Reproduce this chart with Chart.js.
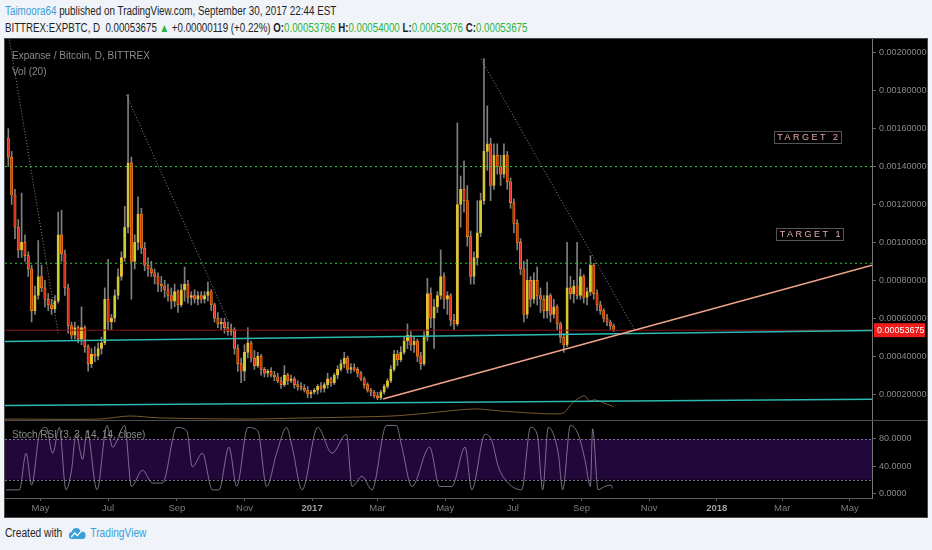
<!DOCTYPE html>
<html lang="en">
<head>
<meta charset="UTF-8">
<title>EXPBTC daily - TradingView snapshot</title>
<script src="https://cdn.jsdelivr.net/npm/chart.js"></script>
<style>
  body {
    margin: 0;
    width: 932px;
    height: 550px;
    background: #f0f3f8;
    position: relative;
    overflow: hidden;
    font-family: 'Liberation Sans', Arial, sans-serif;
    color: #1f1f1f;
  }
  .line1, .line2, .foot {
    position: absolute;
    left: 5px;
    font-size: 12px;
    white-space: nowrap;
    transform-origin: left center;
  }
  .line1 { top: 4px; transform: scaleX(0.82); }
  .line2 { top: 21px; transform: scaleX(0.81); }
  .user, .brand { color: #3aa0d9; }
  .g { color: #2eb33c; }
  .foot { top: 526px; display: flex; align-items: center; transform: scaleX(0.85); }
  .foot svg { margin: 0 5px 0 8px; }
  #panel {
    position: absolute;
    left: 5px;
    top: 39px;
    width: 922px;
    height: 478px;
    background: #000;
    outline: 1px solid #4a4a4a;
  }
  #priceCanvas { position: absolute; left: 0; top: 0; }
  #rsiCanvas { position: absolute; left: 0; top: 381px; }
</style>
</head>
<body>
  <div class="line1"><span class="user">Taimoora64</span> published on TradingView.com, September 30, 2017 22:44 EST</div>
  <div class="line2">BITTREX:EXPBTC, D&nbsp; 0.00053675 <span class="g">&#9650;</span> +0.00000119 (+0.22%) <b>O:</b><span class="g">0.00053786</span> <b>H:</b><span class="g">0.00054000</span> <b>L:</b><span class="g">0.00053076</span> <b>C:</b><span class="g">0.00053675</span></div>

  <div id="panel">
    <canvas id="priceCanvas" width="922" height="381"></canvas>
    <canvas id="rsiCanvas" width="922" height="97"></canvas>
  </div>

  <div class="foot">Created with
    <svg width="20" height="13" viewBox="0 0 20 13"><path d="M4 12 Q0 12 0 8.5 Q0 5 3.5 5 Q4.5 1 9 1 Q13 1 14 4.5 Q20 4 20 8.5 Q20 12 16 12 Z" fill="#3aa0d9"/><path d="M3 10 L7 6 L10 8.5 L15 4" stroke="#fff" stroke-width="1.5" fill="none"/></svg>
    <span class="brand">TradingView</span>
  </div>

  <script>
    // prices are in units of 0.00001 BTC, days count from 2016-01-01
    const candleStart = '2016-04-02';
    const candleDays = 3;

    const opens = [155,145,125,108,96,100,93,86,64,72,82,76,70,67,65,69,104,94,76,56,
      51,55,49,55,45,36,41,40,44,47,70,58,60,72,82,92,108,142,90,100,
      115,97,88,86,84,82,78,77,75,72,69,74,67,75,78,71,72,70,72,70,
      72,74,67,60,57,58,55,53,54,44,36,32,42,47,39,35,40,33,31,32,
      30,29,27,25,30,27,28,25,24,23,22,20,21,22,24,23,25,28,26,30,
      33,36,39,33,34,33,31,28,25,22,21,19,18,21,24,27,33,41,38,42,
      48,51,46,48,40,36,50,73,60,66,72,82,70,72,59,57,120,128,122,103,
      82,92,105,122,148,152,130,146,140,136,146,132,121,110,100,86,62,80,70,80,
      72,70,64,72,62,66,57,50,46,76,73,77,72,82,71,74,88,73,67,64,
      60,58,56];
    const highs = [160,148,128,112,126,104,95,88,77,101,88,80,73,70,72,116,117,96,78,58,
      58,56,66,56,46,44,45,47,50,76,91,62,75,86,95,119,178,145,104,124,
      118,100,92,90,86,84,82,80,78,76,78,75,78,87,80,74,75,74,74,74,
      79,75,68,63,60,60,58,57,55,46,39,46,55,48,43,42,41,34,33,34,
      32,31,29,35,31,30,29,27,26,25,24,22,23,25,26,26,31,29,31,35,
      38,42,40,36,36,34,32,29,26,23,22,21,22,25,28,35,43,43,45,50,
      57,53,50,49,42,53,81,76,70,74,96,84,74,73,62,163,135,143,130,106,
      95,122,126,197,172,155,152,152,146,152,148,134,123,112,102,90,91,82,84,87,
      76,72,79,73,70,67,58,52,100,82,80,100,86,83,76,93,89,75,69,65,
      62,59,57];
    const lows = [140,120,102,92,92,90,82,58,62,70,74,66,64,62,63,68,90,72,52,49,
      49,47,46,42,32,34,37,38,41,46,54,54,58,70,80,90,105,70,86,96,
      94,85,82,82,78,74,74,71,69,65,66,63,66,69,68,67,68,67,68,68,
      69,64,58,55,54,52,51,51,41,32,26,27,39,37,33,34,30,29,29,29,
      27,26,23,24,25,26,23,22,22,21,18,18,20,20,21,21,23,24,25,28,
      32,34,31,31,32,29,27,23,21,19,18,17,17,20,23,26,32,35,37,41,
      44,43,42,37,33,35,48,55,44,63,70,65,62,56,54,56,108,116,98,78,
      78,88,103,120,138,122,128,136,130,134,128,118,105,96,83,58,60,66,68,67,
      63,60,60,58,60,54,47,42,45,70,68,70,70,68,67,72,70,64,62,58,
      56,54,53];
    const closes = [145,125,108,96,100,93,86,64,72,82,76,70,67,65,69,104,94,76,56,51,
      55,49,55,45,36,41,40,44,47,70,58,60,72,82,92,108,142,90,100,115,
      97,88,86,84,82,78,77,75,72,69,74,67,75,78,71,72,70,72,70,72,
      74,67,60,57,58,55,53,54,44,36,32,42,47,39,35,40,33,31,32,30,
      29,27,25,30,27,28,25,24,23,22,20,21,22,24,23,25,28,26,30,33,
      36,39,33,34,33,31,28,25,22,21,19,18,21,24,27,33,41,38,42,48,
      51,46,48,40,36,50,73,60,66,72,82,70,72,59,57,120,128,122,103,82,
      92,105,122,148,152,130,146,140,136,146,132,121,110,100,86,62,80,70,80,72,
      70,64,72,62,66,57,50,46,76,73,77,72,82,71,74,88,73,67,64,60,
      58,56,53.675];

    // 20-period volume average (arbitrary volume units)
    const volMaDays = [89,174,201,228,309,354,408,438,463,499,515,535,562,589,594,600,607,612,616,621,629,636,638];
    const volMa = [5,5,21,11,5,10,16,21,32,53,58,48,37,32,42,85,116,127,100,106,90,74,69];

    // Stoch RSI %K, read at turning points
    const rsiDays = [90,102,108,113,120,126,132,138,144,149,153,159,163,172,181,186,197,203,213,222,
      231,244,253,258,267,276,282,291,298,308,317,325,334,343,348,357,371,384,397,402,
      411,420,433,442,447,456,472,481,492,504,510,522,528,534,543,555,563,569,574,579,
      588,592,599,606,612,617,619,624,630,636,637];
    const rsiK = [5,5,59,12,87,97,59,97,5,34,87,50,92,5,100,68,100,10,34,15,
      15,97,92,39,59,5,5,68,10,97,92,10,59,97,68,5,97,59,87,10,
      25,5,100,100,68,10,68,10,10,68,5,87,78,39,15,5,97,87,5,97,
      59,5,100,87,50,10,95,5,10,12,7];

    const viewFrom = '2016-03-30';
    const viewTo = '2018-05-21';
    const monthTicks = ['2016-05-01','2016-07-01','2016-09-01','2016-11-01','2017-01-01','2017-03-01','2017-05-01',
      '2017-07-01','2017-09-01','2017-11-01','2018-01-01','2018-03-01','2018-05-01'];
    const monthLabels = ['May','Jul','Sep','Nov','2017','Mar','May','Jul','Sep','Nov','2018','Mar','May'];
    const priceTicks = [20,40,60,80,100,120,140,160,180,200];
    const rsiTicks = [0,40,80];
    const rsiBand = [20,80];

    // drawings: [day, price] end points
    const greenLevels = [140, 89];
    const supportLines = [[[89,47.7],[871,53.5]], [[89,14.0],[871,17.2]]];
    const risingLine = [[430,17.4],[871,88]];
    const fallingLines = [[[93,207],[137,52]], [[198.5,177.7],[293,55]], [[518.4,196.7],[657,53.8]]];
    const targets = [
      { text: 'TARGET 2', day: 812.7, price: 155.6 },
      { text: 'TARGET 1', day: 815, price: 104.3 }
    ];

    const FONT = "'Liberation Sans',Arial,sans-serif";
    const dayOf = s => (Date.parse(s) - Date.parse('2016-01-01')) / 864e5;
    const X_MIN = dayOf(viewFrom), X_MAX = dayOf(viewTo);
    const lastClose = closes[closes.length - 1];
    const fmt8 = v => (v / 1e5).toFixed(8);

    const candleX = closes.map((c, i) => dayOf(candleStart) + i * candleDays);
    const isUp = i => closes[i] >= opens[i];
    const pts = arr => arr.map(p => ({ x: p[0], y: p[1] }));

    function lineSet(points, color, width, dash) {
      return {
        type: 'line', data: pts(points), yAxisID: 'y',
        borderColor: color, borderWidth: width, borderDash: dash || [],
        pointRadius: 0, fill: false, tension: 0
      };
    }

    const datasets = [];
    datasets.push(lineSet(risingLine, '#f3a58c', 1.5));
    supportLines.forEach(l => datasets.push(lineSet(l, '#2cb9b1', 1.5)));
    fallingLines.forEach(l => datasets.push(lineSet(l, 'rgba(170,170,170,0.8)', 1, [1, 2])));
    greenLevels.forEach(v => datasets.push(lineSet([[X_MIN, v], [X_MAX, v]], '#2fcc3a', 1, [2, 3])));
    datasets.push(lineSet([[X_MIN, lastClose], [X_MAX, lastClose]], '#8c1515', 1));

    // up candles yellow-green, down candles red with orange edge
    datasets.push({
      type: 'bar', label: 'body', yAxisID: 'y', grouped: false,
      data: closes.map((c, i) => ({ x: candleX[i], y: [opens[i], c] })),
      barThickness: 2.4, minBarLength: 1, borderSkipped: false, borderWidth: 0.7,
      backgroundColor: ctx => isUp(ctx.dataIndex) ? '#c9d234' : '#dc2a1c',
      borderColor: ctx => isUp(ctx.dataIndex) ? '#e9b22e' : '#f39418'
    });
    datasets.push({
      type: 'bar', label: 'wick', yAxisID: 'y', grouped: false,
      data: closes.map((c, i) => ({ x: candleX[i], y: [lows[i], highs[i]] })),
      barThickness: 1, backgroundColor: '#7f7f7f'
    });
    datasets.push({
      type: 'line', label: 'Vol MA', yAxisID: 'yv',
      data: volMaDays.map((d, i) => ({ x: d, y: volMa[i] })),
      borderColor: '#7a5a2e', borderWidth: 1, pointRadius: 0, tension: 0.3
    });

    const priceOverlay = {
      id: 'priceOverlay',
      afterDraw(chart) {
        const { ctx, chartArea, scales } = chart;
        ctx.save();
        ctx.textBaseline = 'middle';
        ctx.fillStyle = '#8b8b8b';
        ctx.font = '10px ' + FONT;
        ctx.fillText('Expanse / Bitcoin, D, BITTREX', 7, 17);
        ctx.fillText('Vol (20)', 7, 33);

        ctx.font = '9px ' + FONT;
        ctx.letterSpacing = '2.5px';
        targets.forEach(t => {
          const cx = scales.x.getPixelForValue(t.day);
          const cy = scales.y.getPixelForValue(t.price);
          const w = ctx.measureText(t.text).width + 4;
          ctx.fillStyle = '#000';
          ctx.fillRect(cx - w / 2, cy - 6, w, 12);
          ctx.strokeStyle = '#555';
          ctx.lineWidth = 1;
          ctx.strokeRect(Math.round(cx - w / 2) + 0.5, Math.round(cy - 6) + 0.5, Math.round(w), 12);
          ctx.fillStyle = '#e6a7a7';
          ctx.textAlign = 'center';
          ctx.fillText(t.text, cx + 1.5, cy + 0.5);
        });
        ctx.letterSpacing = '0px';

        const py = scales.y.getPixelForValue(lastClose);
        ctx.fillStyle = '#f01c1c';
        ctx.fillRect(chartArea.right + 2, py - 7, 51, 14);
        ctx.fillStyle = '#fff';
        ctx.textAlign = 'left';
        ctx.font = '9px ' + FONT;
        ctx.fillText(fmt8(lastClose), chartArea.right + 5, py + 0.5);
        ctx.restore();
      }
    };

    // right-hand axis of fixed width, no label overflow padding
    const axisRight = {
      position: 'right',
      afterFit: s => { s.width = 55; s.paddingTop = 0; s.paddingBottom = 0; },
      grid: { drawOnChartArea: false, drawTicks: true, tickLength: 4, color: '#6a6a6a' },
      border: { display: true, color: '#777' }
    };

    new Chart(document.getElementById('priceCanvas'), {
      type: 'bar',
      data: { datasets: datasets },
      options: {
        responsive: false,
        animation: false,
        layout: { padding: 0 },
        plugins: { legend: { display: false }, tooltip: { enabled: false } },
        scales: {
          x: { type: 'linear', min: X_MIN, max: X_MAX, offset: false, display: false },
          y: {
            ...axisRight, type: 'linear', min: 6.3, max: 207.3,
            afterBuildTicks: s => { s.ticks = priceTicks.map(v => ({ value: v })); },
            ticks: { color: '#8a8a8a', font: { size: 9, family: FONT }, padding: 3, callback: v => fmt8(v) }
          },
          yv: { type: 'linear', display: false, min: 0, max: 2000 }
        }
      },
      plugins: [priceOverlay]
    });

    const rsiOverlay = {
      id: 'rsiOverlay',
      beforeDatasetsDraw(chart) {
        const { ctx, chartArea, scales } = chart;
        const yTop = scales.yr.getPixelForValue(rsiBand[1]);
        const yBot = scales.yr.getPixelForValue(rsiBand[0]);
        ctx.save();
        ctx.fillStyle = '#22073a';
        ctx.fillRect(chartArea.left, yTop, chartArea.right - chartArea.left, yBot - yTop);
        ctx.strokeStyle = '#7a6a8c';
        ctx.lineWidth = 1;
        ctx.setLineDash([2, 2]);
        [yTop, yBot].forEach(y => {
          ctx.beginPath();
          ctx.moveTo(chartArea.left, Math.round(y) + 0.5);
          ctx.lineTo(chartArea.right, Math.round(y) + 0.5);
          ctx.stroke();
        });
        ctx.restore();
      },
      afterDraw(chart) {
        const { ctx } = chart;
        ctx.save();
        ctx.fillStyle = '#8b8b8b';
        ctx.font = '10px ' + FONT;
        ctx.textBaseline = 'middle';
        ctx.fillText('Stoch RSI (3, 3, 14, 14, close)', 7, 15);
        ctx.strokeStyle = '#4d4d4d';
        ctx.beginPath();
        ctx.moveTo(0, 0.5);
        ctx.lineTo(chart.width, 0.5);
        ctx.stroke();
        ctx.restore();
      }
    };

    new Chart(document.getElementById('rsiCanvas'), {
      type: 'line',
      data: {
        datasets: [{
          label: 'Stoch RSI %K', yAxisID: 'yr',
          data: rsiDays.map((d, i) => ({ x: d, y: rsiK[i] })),
          borderColor: 'rgba(150,135,165,0.8)', borderWidth: 1,
          pointRadius: 0, cubicInterpolationMode: 'monotone'
        }]
      },
      options: {
        responsive: false,
        animation: false,
        layout: { padding: 0 },
        plugins: { legend: { display: false }, tooltip: { enabled: false } },
        scales: {
          x: {
            type: 'linear', min: X_MIN, max: X_MAX, offset: false, position: 'bottom',
            afterFit: s => { s.height = 19; s.paddingLeft = 0; s.paddingRight = 0; },
            afterBuildTicks: s => { s.ticks = monthTicks.map(d => ({ value: dayOf(d) })); },
            ticks: {
              autoSkip: false, maxRotation: 0, padding: 2,
              color: c => /^\d{4}$/.test(monthLabels[c.index]) ? '#a0a0a0' : '#7d7d7d',
              font: c => ({ size: 9.5, family: FONT, weight: /^\d{4}$/.test(monthLabels[c.index]) ? 'bold' : 'normal' }),
              callback: (v, i) => monthLabels[i]
            },
            grid: { drawOnChartArea: false, drawTicks: true, tickLength: 3, color: '#5a5a5a' },
            border: { display: true, color: '#5a5a5a' }
          },
          yr: {
            ...axisRight, type: 'linear', min: -7, max: 108,
            afterBuildTicks: s => { s.ticks = rsiTicks.map(v => ({ value: v })); },
            ticks: { color: '#8a8a8a', font: { size: 9, family: FONT }, padding: 3, callback: v => v.toFixed(4) }
          }
        }
      },
      plugins: [rsiOverlay]
    });
  </script>
</body>
</html>
